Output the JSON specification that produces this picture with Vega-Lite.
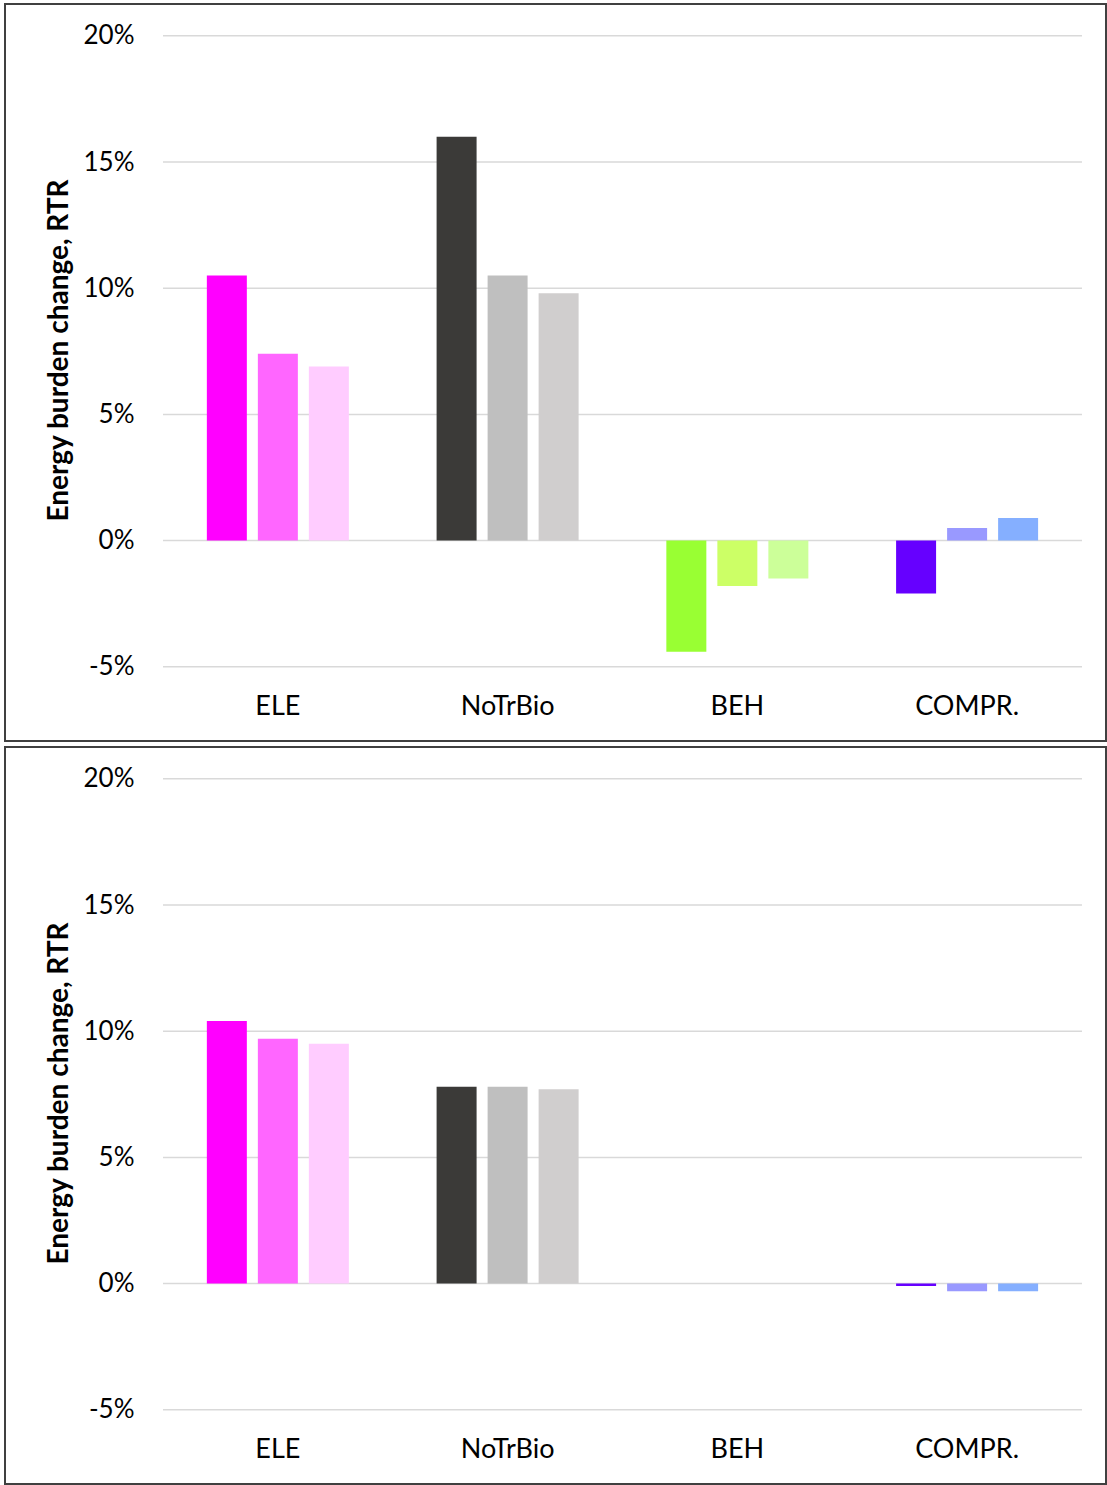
{
  "$schema": "https://vega.github.io/schema/vega-lite/v6.json",
  "padding": {"left": 4, "top": 3, "right": 0, "bottom": 0},
  "background": "white",
  "spacing": 4,
  "config": {
    "font": "Lato",
    "view": {"stroke": "#404040", "strokeWidth": 2},
    "axis": {"labelColor": "#000000", "titleColor": "#000000"}
  },
  "datasets": {
    "bars": [
      {"panel": "top", "cat": "ELE", "s": 1, "k": "ELE1", "v": 0.105},
      {"panel": "top", "cat": "ELE", "s": 2, "k": "ELE2", "v": 0.074},
      {"panel": "top", "cat": "ELE", "s": 3, "k": "ELE3", "v": 0.069},
      {"panel": "top", "cat": "NoTrBio", "s": 1, "k": "NoTrBio1", "v": 0.16},
      {"panel": "top", "cat": "NoTrBio", "s": 2, "k": "NoTrBio2", "v": 0.105},
      {"panel": "top", "cat": "NoTrBio", "s": 3, "k": "NoTrBio3", "v": 0.098},
      {"panel": "top", "cat": "BEH", "s": 1, "k": "BEH1", "v": -0.044},
      {"panel": "top", "cat": "BEH", "s": 2, "k": "BEH2", "v": -0.018},
      {"panel": "top", "cat": "BEH", "s": 3, "k": "BEH3", "v": -0.015},
      {"panel": "top", "cat": "COMPR.", "s": 1, "k": "COMPR1", "v": -0.021},
      {"panel": "top", "cat": "COMPR.", "s": 2, "k": "COMPR2", "v": 0.005},
      {"panel": "top", "cat": "COMPR.", "s": 3, "k": "COMPR3", "v": 0.009},
      {"panel": "bottom", "cat": "ELE", "s": 1, "k": "ELE1", "v": 0.104},
      {"panel": "bottom", "cat": "ELE", "s": 2, "k": "ELE2", "v": 0.097},
      {"panel": "bottom", "cat": "ELE", "s": 3, "k": "ELE3", "v": 0.095},
      {"panel": "bottom", "cat": "NoTrBio", "s": 1, "k": "NoTrBio1", "v": 0.078},
      {"panel": "bottom", "cat": "NoTrBio", "s": 2, "k": "NoTrBio2", "v": 0.078},
      {"panel": "bottom", "cat": "NoTrBio", "s": 3, "k": "NoTrBio3", "v": 0.077},
      {"panel": "bottom", "cat": "BEH", "s": 1, "k": "BEH1", "v": 0},
      {"panel": "bottom", "cat": "BEH", "s": 2, "k": "BEH2", "v": 0},
      {"panel": "bottom", "cat": "BEH", "s": 3, "k": "BEH3", "v": 0},
      {"panel": "bottom", "cat": "COMPR.", "s": 1, "k": "COMPR1", "v": -0.001},
      {"panel": "bottom", "cat": "COMPR.", "s": 2, "k": "COMPR2", "v": -0.003},
      {"panel": "bottom", "cat": "COMPR.", "s": 3, "k": "COMPR3", "v": -0.003}
    ],
    "grid": [
      {"g": -0.05, "a": "ELE", "b": "COMPR."},
      {"g": 0, "a": "ELE", "b": "COMPR."},
      {"g": 0.05, "a": "ELE", "b": "COMPR."},
      {"g": 0.1, "a": "ELE", "b": "COMPR."},
      {"g": 0.15, "a": "ELE", "b": "COMPR."},
      {"g": 0.2, "a": "ELE", "b": "COMPR."}
    ]
  },
  "vconcat": [
    {
      "width": 1101,
      "height": 737,
      "layer": [
        {
          "data": {"name": "grid"},
          "mark": {"type": "rule", "color": "#D9D9D9", "strokeWidth": 1.5},
          "encoding": {
            "x": {"field": "a", "type": "nominal", "bandPosition": 0},
            "x2": {"field": "b", "bandPosition": 1},
            "y": {"field": "g", "type": "quantitative"}
          }
        },
        {
          "data": {"name": "bars"},
          "transform": [{"filter": "datum.panel == 'top'"}],
          "mark": {"type": "bar"},
          "encoding": {
            "x": {
              "field": "cat", "type": "nominal",
              "scale": {"domain": ["ELE", "NoTrBio", "BEH", "COMPR."], "paddingInner": 0, "paddingOuter": 0.3961, "align": 0.868},
              "axis": {"orient": "bottom", "title": null, "domain": false, "ticks": false, "grid": false, "labelPadding": 0, "labelAlign": "center", "labelBaseline": "middle", "offset": -35, "labelFontSize": 27, "labelAngle": 0}
            },
            "xOffset": {"field": "s", "type": "nominal", "scale": {"paddingInner": 0.216, "paddingOuter": 0.86}},
            "y": {
              "field": "v", "type": "quantitative", "stack": null,
              "scale": {"domain": [-0.0794, 0.2126], "nice": false},
              "axis": {"values": [-0.05, 0, 0.05, 0.1, 0.15, 0.2], "labelExpr": "round(datum.value*100) + '%'", "grid": false, "domain": false, "ticks": false, "offset": -129, "labelPadding": 0, "labelFontSize": 26, "title": "Energy burden change, RTR", "titleFontSize": 28, "titleFontWeight": "bold", "titlePadding": 10, "titleY": 346}
            },
            "y2": {"datum": 0},
            "color": {
              "field": "k", "type": "nominal", "legend": null,
              "scale": {
                "domain": ["ELE1", "ELE2", "ELE3", "NoTrBio1", "NoTrBio2", "NoTrBio3", "BEH1", "BEH2", "BEH3", "COMPR1", "COMPR2", "COMPR3"],
                "range": ["#FF00FF", "#FF66FF", "#FFCCFF", "#3B3A38", "#BFBFBF", "#D0CECE", "#99FF33", "#CCFF66", "#CCFF99", "#6600FF", "#9999FF", "#85AFFF"]
              }
            }
          }
        }
      ]
    },
    {
      "width": 1101,
      "height": 737,
      "layer": [
        {
          "data": {"name": "grid"},
          "mark": {"type": "rule", "color": "#D9D9D9", "strokeWidth": 1.5},
          "encoding": {
            "x": {"field": "a", "type": "nominal", "bandPosition": 0},
            "x2": {"field": "b", "bandPosition": 1},
            "y": {"field": "g", "type": "quantitative"}
          }
        },
        {
          "data": {"name": "bars"},
          "transform": [{"filter": "datum.panel == 'bottom'"}],
          "mark": {"type": "bar"},
          "encoding": {
            "x": {
              "field": "cat", "type": "nominal",
              "scale": {"domain": ["ELE", "NoTrBio", "BEH", "COMPR."], "paddingInner": 0, "paddingOuter": 0.3961, "align": 0.868},
              "axis": {"orient": "bottom", "title": null, "domain": false, "ticks": false, "grid": false, "labelPadding": 0, "labelAlign": "center", "labelBaseline": "middle", "offset": -35, "labelFontSize": 27, "labelAngle": 0}
            },
            "xOffset": {"field": "s", "type": "nominal", "scale": {"paddingInner": 0.216, "paddingOuter": 0.86}},
            "y": {
              "field": "v", "type": "quantitative", "stack": null,
              "scale": {"domain": [-0.0794, 0.2126], "nice": false},
              "axis": {"values": [-0.05, 0, 0.05, 0.1, 0.15, 0.2], "labelExpr": "round(datum.value*100) + '%'", "grid": false, "domain": false, "ticks": false, "offset": -129, "labelPadding": 0, "labelFontSize": 26, "title": "Energy burden change, RTR", "titleFontSize": 28, "titleFontWeight": "bold", "titlePadding": 10, "titleY": 346}
            },
            "y2": {"datum": 0},
            "color": {
              "field": "k", "type": "nominal", "legend": null,
              "scale": {
                "domain": ["ELE1", "ELE2", "ELE3", "NoTrBio1", "NoTrBio2", "NoTrBio3", "BEH1", "BEH2", "BEH3", "COMPR1", "COMPR2", "COMPR3"],
                "range": ["#FF00FF", "#FF66FF", "#FFCCFF", "#3B3A38", "#BFBFBF", "#D0CECE", "#99FF33", "#CCFF66", "#CCFF99", "#6600FF", "#9999FF", "#85AFFF"]
              }
            }
          }
        }
      ]
    }
  ]
}
